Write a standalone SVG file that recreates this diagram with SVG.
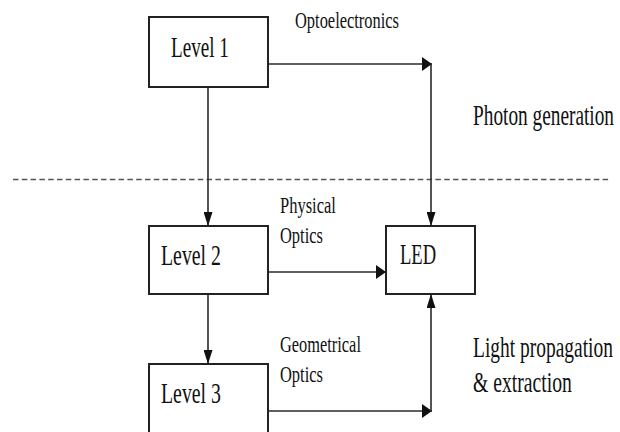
<svg xmlns="http://www.w3.org/2000/svg" width="620" height="432" viewBox="0 0 620 432">
  <defs>
    <!-- arrowheads: horizontal ones are short and wide, vertical ones long and narrow -->
    <marker id="arrow-h" viewBox="0 0 10 14" refX="10" refY="7" markerWidth="10" markerHeight="14" markerUnits="userSpaceOnUse" orient="auto">
      <path d="M0,0 L10,7 L0,14 Z" fill="#111"/>
    </marker>
    <marker id="arrow-v" viewBox="0 0 14 9" refX="14" refY="4.5" markerWidth="14" markerHeight="9" markerUnits="userSpaceOnUse" orient="auto">
      <path d="M0,0 L14,4.5 L0,9 Z" fill="#111"/>
    </marker>
    <style>
      .box { fill: #fff; stroke: #222; stroke-width: 2; }
      .wire { fill: none; stroke: #2a2a2a; stroke-width: 1.6; }
      .sep { fill: none; stroke: #555; stroke-width: 1.6; stroke-dasharray: 5.5 3.3; }
      text { font-family: "Liberation Serif", "Times New Roman", serif; fill: #111; }
      .big { font-size: 29px; }
      .small { font-size: 23.5px; }
    </style>
  </defs>

  <rect width="620" height="432" fill="#fff"/>

  <!-- boundary between the two regimes -->
  <line class="sep" x1="13" y1="179.5" x2="610" y2="179.5"/>

  <!-- connectors -->
  <g id="connectors">
    <line class="wire" x1="208" y1="87" x2="208" y2="226" marker-end="url(#arrow-v)"/>
    <line class="wire" x1="208" y1="294" x2="208" y2="364" marker-end="url(#arrow-v)"/>
    <line class="wire" x1="268" y1="64" x2="432" y2="64" marker-end="url(#arrow-h)"/>
    <line class="wire" x1="431" y1="64" x2="431" y2="226" marker-end="url(#arrow-v)"/>
    <line class="wire" x1="268" y1="272" x2="386" y2="272" marker-end="url(#arrow-h)"/>
    <line class="wire" x1="268" y1="411" x2="432" y2="411" marker-end="url(#arrow-h)"/>
    <line class="wire" x1="431" y1="411" x2="431" y2="294" marker-end="url(#arrow-v)"/>
  </g>

  <!-- the type is set narrow: each label is squeezed horizontally -->
  <g id="level1">
    <rect class="box" x="149" y="17" width="119" height="70"/>
    <text class="big" transform="translate(171,57) scale(0.66,1)">Level 1</text>
  </g>

  <g id="level2">
    <rect class="box" x="149" y="226" width="119" height="68"/>
    <text class="big" transform="translate(161,265) scale(0.683,1)">Level 2</text>
  </g>

  <g id="level3">
    <rect class="box" x="149" y="364" width="119" height="80"/>
    <text class="big" transform="translate(161,403) scale(0.683,1)">Level 3</text>
  </g>

  <g id="led">
    <rect class="box" x="386" y="226" width="89" height="68"/>
    <text class="big" transform="translate(400,264) scale(0.64,1)">LED</text>
  </g>

  <!-- connector labels -->
  <g id="labels">
    <text class="small" transform="translate(295,28) scale(0.699,1)">Optoelectronics</text>
    <text class="small" transform="translate(280,213) scale(0.703,1)">Physical</text>
    <text class="small" transform="translate(280,243) scale(0.7,1)">Optics</text>
    <text class="small" transform="translate(280,352) scale(0.697,1)">Geometrical</text>
    <text class="small" transform="translate(280,381.5) scale(0.7,1)">Optics</text>
  </g>

  <!-- regime captions -->
  <g id="captions">
    <text class="big" transform="translate(473,125) scale(0.666,1)">Photon generation</text>
    <text class="big" transform="translate(473,356.5) scale(0.671,1)">Light propagation</text>
    <text class="big" transform="translate(473,391.5) scale(0.679,1)">&amp; extraction</text>
  </g>
</svg>
